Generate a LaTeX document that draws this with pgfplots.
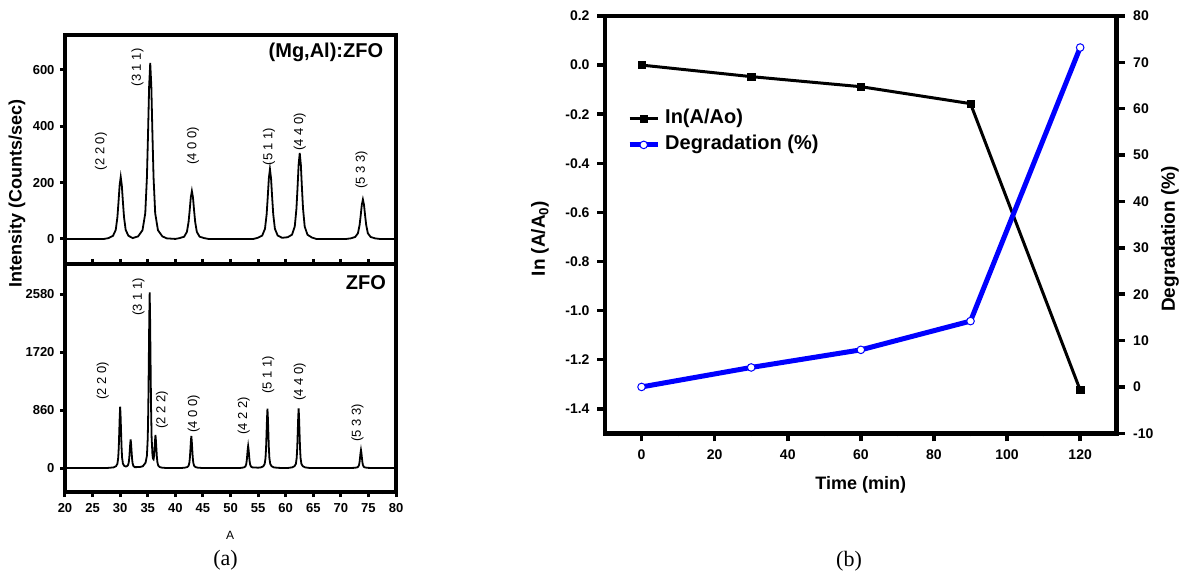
\documentclass[border=0pt]{standalone}
\usepackage{fontspec}
\setmainfont{Liberation Sans}
\newfontfamily\serifff{Liberation Serif}
\usepackage{pgfplots}
\pgfplotsset{compat=1.18}
\newcommand{\fs}[1]{\fontsize{#1}{#1}\selectfont}

\pgfplotsset{
  panela/.style={
    scale only axis, width=331pt, anchor=south west,
    xmin=20, xmax=80,
    tick align=outside, ytick pos=left,
    major tick length=5pt, minor tick length=2pt,
    separate axis lines,
    axis line style={line width=3.6pt, line cap=rect},
    major tick style={black, line width=3pt},
    minor tick style={black, line width=0.8pt},
    tick label style={font=\bfseries\fs{13}},
    xticklabel style={yshift=-3pt},
    yticklabel style={xshift=-2pt},
    /pgf/number format/assume math mode=true,
    /pgf/number format/1000 sep={},
    scaled y ticks=false,
  },
  panelb/.style={
    scale only axis, width=511.7pt, height=417.3pt, anchor=south west,
    xmin=-10, xmax=130,
    tick align=outside,
    major tick length=8pt, minor tick length=3pt,
    separate axis lines,
    axis line style={line width=4.5pt, line cap=rect},
    major tick style={black, line width=3.5pt},
    minor tick style={black, line width=0.8pt},
    tick label style={font=\bfseries\fs{14}},
    xticklabel style={yshift=-5pt},
    /pgf/number format/assume math mode=true,
  },
}
\tikzset{pk/.style={rotate=90, font=\fs{13}}}

\begin{document}
\begin{tikzpicture}[x=1pt,y=1pt]
\useasboundingbox (0,0) rectangle (1180,573);

% ---- (a) upper: (Mg,Al):ZFO
\begin{axis}[panela, at={(65pt,309pt)}, height=229pt,
  ymin=-89, ymax=724, ytick={0,200,400,600},
  xtick=\empty, minor xtick={22.5,25,...,77.5}, xtick pos=top]
\addplot[black, line width=1.8pt] coordinates {
 (20,0) (27.1,0) (27.9,3) (28.7,11) (29.2,32) (29.5,77) (29.7,131) (29.9,190) (30.1,220)
 (30.3,190) (30.5,131) (30.7,77) (31.0,32) (31.5,11) (32.3,3) (32.75,6) (33.25,9)
 (34.05,31) (34.55,91) (34.85,219) (35.05,372) (35.25,541) (35.45,625) (35.65,541)
 (35.85,372) (36.05,219) (36.35,91) (36.85,31) (37.65,9) (38.45,2) (40.0,0)
 (40.8,3) (41.6,8) (42.1,25) (42.4,60) (42.6,101) (42.8,147) (43.0,170) (43.2,147)
 (43.4,101) (43.6,60) (43.9,25) (44.4,8) (45.2,3) (46.0,0) (54.15,0)
 (54.95,4) (55.75,12) (56.25,36) (56.55,87) (56.75,148) (56.95,215) (57.15,248)
 (57.35,215) (57.55,148) (57.75,87) (58.05,36) (58.55,12) (59.35,4) (59.85,5)
 (60.35,6) (61.15,15) (61.65,44) (61.95,107) (62.15,181) (62.35,264) (62.55,305)
 (62.75,264) (62.95,181) (63.15,107) (63.45,44) (63.95,15) (64.75,5) (65.55,0)
 (71.0,0) (71.8,2) (72.6,7) (73.1,20) (73.4,49) (73.6,83) (73.8,121) (74.0,140)
 (74.2,121) (74.4,83) (74.6,49) (74.9,20) (75.4,7) (76.2,2) (77.0,0) (80,0)
};
\node[pk] at (axis cs:26.55,311) {(2 2 0)};
\node[pk] at (axis cs:33.15,609) {(3 1 1)};
\node[pk] at (axis cs:43.2,331) {(4 0 0)};
\node[pk] at (axis cs:56.97,328) {(5 1 1)};
\node[pk] at (axis cs:62.55,381) {(4 4 0)};
\node[pk] at (axis cs:73.76,244) {(5 3 3)};
\node[anchor=east, font=\bfseries\fs{20}] at (axis cs:78.3,662) {(Mg,Al):ZFO};
\end{axis}

% ---- (a) lower: ZFO
\begin{axis}[panela, at={(65pt,81pt)}, height=228pt,
  ymin=-356, ymax=3030, ytick={0,860,1720,2580},
  xtick={20,25,...,80}, minor x tick num=1, xtick pos=both,
  xticklabel pos=bottom]
\addplot[black, line width=1.8pt] coordinates {
 (20,0) (27.5,0) (28.8,9) (29.25,27) (29.5,64) (29.65,155) (29.75,314) (29.83,524)
 (29.92,765) (30.0,911) (30.08,765) (30.17,524) (30.25,314) (30.35,155) (30.5,64)
 (30.75,31) (31.0,23) (31.15,25) (31.4,39) (31.55,79) (31.65,150) (31.73,245)
 (31.82,358) (31.9,426) (31.98,358) (32.07,245) (32.15,147) (32.25,72) (32.4,30)
 (32.65,13) (33.1,14) (33.6,16) (34.1,26) (34.6,78) (34.85,183) (35.0,444)
 (35.1,900) (35.18,1500) (35.27,2192) (35.35,2610) (35.43,2192) (35.52,1500)
 (35.6,900) (35.7,460) (35.85,200) (35.95,140) (36.05,130) (36.15,180) (36.23,290)
 (36.32,410) (36.4,490) (36.48,410) (36.57,282) (36.65,170) (36.75,85) (36.9,35)
 (37.15,15) (37.6,5) (38.5,0) (41.0,0) (41.7,5) (42.15,14) (42.4,33) (42.55,81)
 (42.65,164) (42.73,273) (42.82,399) (42.9,475) (42.98,399) (43.07,273) (43.15,164)
 (43.25,81) (43.4,33) (43.65,14) (44.1,5) (45.0,0) (51.5,0) (52.0,3) (52.45,10)
 (52.7,23) (52.85,56) (52.95,113) (53.03,188) (53.12,275) (53.2,327) (53.28,275)
 (53.37,188) (53.45,113) (53.55,56) (53.7,23) (53.95,10) (54.4,8) (55.0,5) (55.5,9)
 (55.95,26) (56.2,62) (56.35,150) (56.45,304) (56.53,507) (56.62,740) (56.7,881)
 (56.78,740) (56.87,507) (56.95,304) (57.05,150) (57.2,62) (57.45,26) (57.9,9)
 (58.6,3) (59.5,0) (60.3,0) (61.15,9) (61.6,27) (61.85,62) (62.0,151) (62.1,306)
 (62.18,510) (62.27,745) (62.35,887) (62.43,745) (62.52,510) (62.6,306) (62.7,151)
 (62.85,62) (63.1,27) (63.55,9) (64.4,0) (71.6,0) (72.45,3) (72.9,8) (73.15,19)
 (73.3,45) (73.4,92) (73.48,154) (73.57,224) (73.65,267) (73.73,224) (73.82,154)
 (73.9,92) (74.0,45) (74.15,19) (74.4,8) (74.85,3) (75.7,0) (80,0)
};
\node[pk] at (axis cs:26.85,1296) {(2 2 0)};
\node[pk] at (axis cs:33.33,2541) {(3 1 1)};
\node[pk] at (axis cs:37.58,862) {(2 2 2)};
\node[pk] at (axis cs:43.33,802) {(4 0 0)};
\node[pk] at (axis cs:52.42,773) {(4 2 2)};
\node[pk] at (axis cs:56.85,1382) {(5 1 1)};
\node[pk] at (axis cs:62.55,1282) {(4 4 0)};
\node[pk] at (axis cs:73.03,669) {(5 3 3)};
\node[anchor=east, font=\bfseries\fs{20}] at (axis cs:78.8,2760) {ZFO};
\end{axis}

% ---- (b) left axis: ln(A/Ao)
\begin{axis}[panelb, at={(605pt,139.7pt)},
  ymin=-1.5, ymax=0.2,
  xtick={0,20,...,120}, minor xtick={10,30,...,110}, xtick pos=bottom,
  ytick={-1.4,-1.2,-1.0,-0.8,-0.6,-0.4,-0.2,0,0.2}, ytick pos=left,
  yticklabel style={xshift=-4pt, /pgf/number format/.cd, fixed, fixed zerofill, precision=1}]
\addplot[black, line width=3pt, mark=square*, mark size=3.6pt,
  mark options={line width=0.5pt}] coordinates {
 (0,0) (30,-0.047) (60,-0.088) (90,-0.157) (120,-1.324)
};
\end{axis}

% ---- (b) right axis: degradation
\begin{axis}[panelb, at={(605pt,139.7pt)},
  ymin=-10, ymax=80,
  xtick=\empty, minor xtick={0,10,...,120}, xtick pos=top,
  ytick={-10,0,...,80}, ytick pos=right,
  yticklabel style={xshift=5pt},
  legend style={at={(0.043,0.7755)}, anchor=north west, draw=none, fill=none,
    inner sep=0pt, font=\bfseries\fs{20}, row sep=8pt, column sep=5pt,
    nodes={inner sep=0pt, text height=14pt, text depth=4pt}},
  legend cell align=left,
  legend image code/.code={\draw[mark repeat=2, mark phase=2, #1]
    plot coordinates {(0pt,0pt) (14pt,0pt) (28pt,0pt)};}]
\addlegendimage{black, line width=3pt, mark=square*, mark size=3.6pt, mark options={line width=0.5pt}}
\addlegendentry{In(A/Ao)}
\addplot[blue, line width=5pt, mark=*, mark size=3.8pt,
  mark options={fill=white, draw=blue, line width=1pt}] coordinates {
 (0,0) (30,4.2) (60,8.0) (90,14.2) (120,73.2)
};
\addlegendentry{Degradation (\%)}
\end{axis}

% ---- labels
\node[rotate=90, font=\bfseries\fs{18}] at (17,379.5) {Intensity (Counts/sec)};
\node[font=\fs{12}] at (230,38) {A};
\node[font=\serifff\fs{22}] at (225.5,13) {(a)};
\node[font=\bfseries\fs{18}] at (860.8,88) {Time (min)};
\node[rotate=90, font=\bfseries\fs{19}] at (540,334.5) {In (A/A\textsubscript{0})};
\node[rotate=90, font=\bfseries\fs{19}] at (1170,334) {Degradation (\%)};
\node[font=\serifff\fs{22}] at (849,11.3) {(b)};
\end{tikzpicture}
\end{document}
